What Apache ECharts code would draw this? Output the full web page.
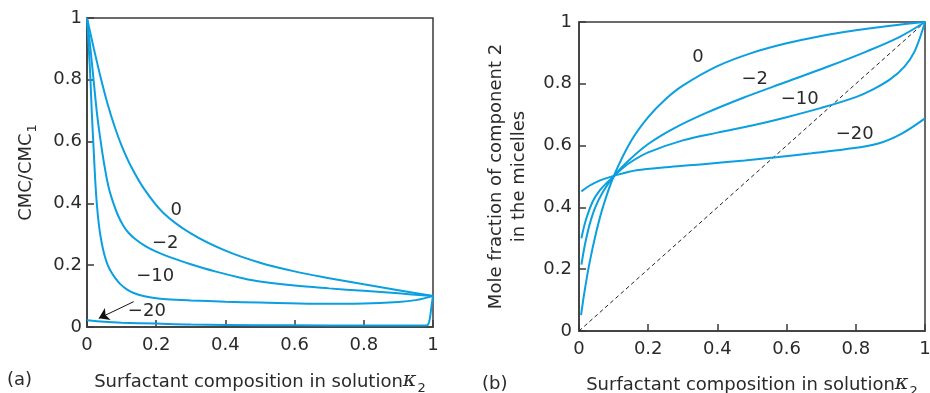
<!DOCTYPE html>
<html>
<head>
<meta charset="utf-8">
<title>Mixed micelles</title>
<script src="https://cdn.jsdelivr.net/npm/echarts@6/dist/echarts.min.js"></script>
<style>
html, body { margin: 0; padding: 0; background: #fff; }
#chart { width: 930px; height: 393px; }
</style>
</head>
<body>
<div id="chart"></div>
<script>
// (a) CMC/CMC1 against solution composition, one curve per beta
var cmcBeta0 = [[0, 1.0], [0.01, 0.95], [0.02, 0.9], [0.04, 0.805], [0.06, 0.72], [0.08, 0.648], [0.1, 0.587], [0.127, 0.52], [0.165, 0.447], [0.22, 0.37], [0.3, 0.303], [0.4, 0.247], [0.5, 0.208], [0.6, 0.18], [0.7, 0.158], [0.8, 0.138], [0.9, 0.119], [1, 0.1]];
var cmcBeta2 = [[0, 1.0], [0.005, 0.95], [0.01, 0.9], [0.019, 0.8], [0.029, 0.69], [0.039, 0.605], [0.05, 0.525], [0.062, 0.455], [0.075, 0.405], [0.09, 0.36], [0.105, 0.328], [0.12, 0.305], [0.14, 0.284], [0.17, 0.261], [0.2, 0.244], [0.25, 0.222], [0.3, 0.203], [0.37, 0.18], [0.45, 0.158], [0.5, 0.147], [0.6, 0.134], [0.7, 0.125], [0.8, 0.117], [0.9, 0.109], [1, 0.1]];
var cmcBeta10 = [[0, 1.0], [0.005, 0.905], [0.01, 0.8], [0.014, 0.69], [0.019, 0.58], [0.024, 0.47], [0.029, 0.39], [0.035, 0.325], [0.042, 0.275], [0.05, 0.235], [0.06, 0.2], [0.07, 0.178], [0.082, 0.158], [0.097, 0.138], [0.115, 0.122], [0.135, 0.11], [0.16, 0.101], [0.19, 0.095], [0.23, 0.09], [0.3, 0.086], [0.4, 0.082], [0.5, 0.079], [0.66, 0.075], [0.8, 0.076], [0.9, 0.081], [0.95, 0.087], [1, 0.1]];
var cmcBeta20 = [[0, 0.022], [0.05, 0.017], [0.1, 0.014], [0.2, 0.011], [0.3, 0.008], [0.5, 0.006], [0.7, 0.005], [0.9, 0.005], [0.98, 0.005], [0.986, 0.008], [0.991, 0.028], [0.996, 0.071], [1, 0.1]];

// (b) mole fraction of component 2 in the micelles
var micBeta0 = [[0.006, 0.051], [0.015, 0.121], [0.03, 0.218], [0.05, 0.321], [0.07, 0.404], [0.1, 0.5], [0.15, 0.614], [0.2, 0.692], [0.25, 0.75], [0.3, 0.794], [0.4, 0.857], [0.5, 0.9], [0.6, 0.931], [0.7, 0.955], [0.8, 0.973], [0.9, 0.988], [1, 1]];
var micBeta2 = [[0.007, 0.215], [0.013, 0.255], [0.021, 0.3], [0.032, 0.35], [0.047, 0.4], [0.069, 0.45], [0.1, 0.5], [0.142, 0.55], [0.2, 0.605], [0.273, 0.655], [0.366, 0.705], [0.475, 0.755], [0.596, 0.805], [0.718, 0.855], [0.832, 0.905], [0.927, 0.952], [1, 1]];
var micBeta10 = [[0.007, 0.3], [0.02, 0.36], [0.04, 0.42], [0.06, 0.455], [0.08, 0.479], [0.1, 0.5], [0.12, 0.521], [0.15, 0.547], [0.2, 0.578], [0.3, 0.617], [0.4, 0.642], [0.5, 0.665], [0.6, 0.692], [0.7, 0.722], [0.8, 0.757], [0.85, 0.782], [0.9, 0.815], [0.94, 0.855], [0.97, 0.905], [1, 1]];
var micBeta20 = [[0.007, 0.452], [0.03, 0.47], [0.05, 0.482], [0.075, 0.493], [0.1, 0.502], [0.166, 0.52], [0.262, 0.531], [0.359, 0.54], [0.479, 0.552], [0.576, 0.563], [0.672, 0.575], [0.769, 0.588], [0.865, 0.607], [0.933, 0.639], [1, 0.688]];
var diagonal = [[0, 0], [1, 1]];

var betaNames = ['0', '\u22122', '\u221210', '\u221220'];
// where the beta labels sit, in data units
var cmcLabelPos = [[0.258, 0.379], [0.226, 0.271], [0.197, 0.163], [0.173, 0.052]];
var micLabelPos = [[0.344, 0.885], [0.508, 0.815], [0.638, 0.75], [0.797, 0.636]];
var arrowFrom = [0.135, 0.082];
var arrowTo = [0.034, 0.028];

var tickLabels = ['0', '0.2', '0.4', '0.6', '0.8', '1'];

var blue = '#0a9fe0';
var ink = '#2a2a2a';
var axisCol = '#3a3a3a';
var font = 'DejaVu Sans';

var chart = echarts.init(document.getElementById('chart'));

function tickFmt(v) {
	return tickLabels[Math.round(v * 5)];
}

function makeAxis(idx, opts) {
	var a = {
		type: 'value',
		gridIndex: idx,
		min: 0,
		max: 1,
		interval: 0.2,
		splitLine: { show: false },
		axisLine: { lineStyle: { color: axisCol, width: 1.5 } },
		axisTick: { inside: true, length: 7, lineStyle: { color: axisCol, width: 1.5 } },
		nameLocation: 'middle'
	};
	return Object.assign(a, opts);
}

function tickLabel(margin) {
	return { color: ink, fontSize: 18, fontFamily: font, formatter: tickFmt, margin: margin };
}

var xName = '{t|Surfactant composition in solution}{k|\u03ba}{s|2}';
var xRich = {
	t: { fontSize: 18, fontFamily: font, color: ink, lineHeight: 24, verticalAlign: 'bottom' },
	k: { fontSize: 21, fontFamily: 'DejaVu Serif', fontStyle: 'italic', color: ink, lineHeight: 24, verticalAlign: 'bottom' },
	s: { fontSize: 13, fontFamily: font, color: ink, lineHeight: 24, verticalAlign: 'bottom', padding: [0, 0, -4, 1] }
};

function curve(data, idx, name, pos) {
	return {
		type: 'line',
		xAxisIndex: idx,
		yAxisIndex: idx,
		data: data,
		showSymbol: false,
		smooth: 0.35,
		silent: true,
		lineStyle: { color: blue, width: 2 },
		markPoint: {
			symbol: 'circle',
			symbolSize: 0,
			silent: true,
			label: { show: true, position: 'inside', formatter: '{b}', color: ink, fontSize: 18, fontFamily: font },
			data: [{ name: name, coord: pos }]
		}
	};
}

var arrowSeries = curve(cmcBeta20, 0, betaNames[3], cmcLabelPos[3]);
arrowSeries.markLine = {
	silent: true,
	symbol: ['none', 'arrow'],
	symbolSize: 10,
	label: { show: false },
	lineStyle: { color: '#111', width: 1, type: 'solid' },
	data: [[{ coord: arrowFrom }, { coord: arrowTo }]]
};

chart.setOption({
	animation: false,
	backgroundColor: '#fff',
	grid: [
		{ left: 87, right: 497, top: 18, bottom: 66, outerBoundsMode: 'none', show: true, borderColor: axisCol, borderWidth: 1.5 },
		{ left: 579, right: 5, top: 22, bottom: 62, outerBoundsMode: 'none', show: true, borderColor: axisCol, borderWidth: 1.5 }
	],
	xAxis: [
		makeAxis(0, { name: xName, nameGap: 40, nameTextStyle: { rich: xRich }, axisLabel: tickLabel(9) }),
		makeAxis(1, { name: xName, nameGap: 39, nameTextStyle: { rich: xRich }, axisLabel: tickLabel(9) })
	],
	yAxis: [
		makeAxis(0, {
			name: '{t|CMC/CMC}{s|1}', nameGap: 52,
			nameTextStyle: {
				rich: {
					t: { fontSize: 18, fontFamily: font, color: ink, lineHeight: 22, verticalAlign: 'bottom' },
					s: { fontSize: 13, fontFamily: font, color: ink, lineHeight: 22, verticalAlign: 'bottom', padding: [0, 0, -4, 1] }
				}
			},
			axisLabel: tickLabel(5)
		}),
		makeAxis(1, {
			name: 'Mole fraction of component 2\nin the micelles', nameGap: 48,
			nameTextStyle: { color: ink, fontSize: 18, fontFamily: font, lineHeight: 23 },
			axisLabel: tickLabel(7)
		})
	],
	graphic: [
		{ type: 'text', left: 7, top: 371, style: { text: '(a)', fill: ink, fontSize: 18, fontFamily: font } },
		{ type: 'text', left: 482, top: 375, style: { text: '(b)', fill: ink, fontSize: 18, fontFamily: font } }
	],
	series: [
		curve(cmcBeta0, 0, betaNames[0], cmcLabelPos[0]),
		curve(cmcBeta2, 0, betaNames[1], cmcLabelPos[1]),
		curve(cmcBeta10, 0, betaNames[2], cmcLabelPos[2]),
		arrowSeries,
		{
			type: 'line',
			xAxisIndex: 1,
			yAxisIndex: 1,
			data: diagonal,
			showSymbol: false,
			silent: true,
			lineStyle: { color: '#222', width: 1, type: [4, 3] }
		},
		curve(micBeta0, 1, betaNames[0], micLabelPos[0]),
		curve(micBeta2, 1, betaNames[1], micLabelPos[1]),
		curve(micBeta10, 1, betaNames[2], micLabelPos[2]),
		curve(micBeta20, 1, betaNames[3], micLabelPos[3])
	]
});
</script>
</body>
</html>
